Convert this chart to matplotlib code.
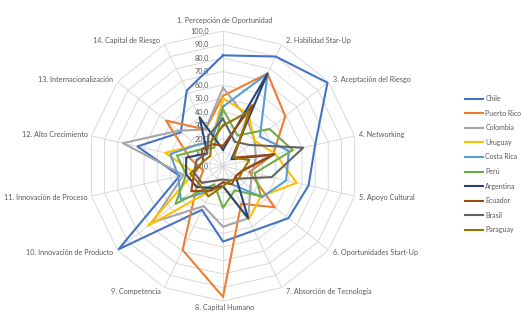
import numpy as np
import matplotlib
matplotlib.use("Agg")
import matplotlib.pyplot as plt

#####################################################################################
categories = [
    "1. Percepción de Oportunidad", "2. Habilidad Star-Up", "3. Aceptación del Riesgo",
    "4. Networking", "5. Apoyo Cultural", "6. Oportunidades Start-Up",
    "7. Absorción de Tecnología", "8. Capital Humano", "9. Competencia",
    "10. Innovación de Producto", "11. Innovación de Proceso", "12. Alto Crecimiento",
    "13. Internacionalización", "14. Capital de Riesgo",
]

chile = [82, 90, 99, 70, 65, 62, 53, 56, 36, 99, 33, 65, 40, 62]
puerto_rico = [52, 76, 59, 38, 20, 49, 31, 97, 69, 25, 15, 25, 54, 30]
colombia = [58, 40, 30, 25, 22, 26, 43, 45, 33, 67, 30, 76, 42, 30]
uruguay = [50, 43, 30, 40, 56, 36, 44, 15, 20, 71, 22, 44, 25, 20]
costa_rica = [44, 76, 35, 50, 48, 37, 15, 12, 20, 40, 34, 40, 25, 20]
peru = [42, 25, 44, 53, 24, 36, 20, 31, 15, 45, 28, 35, 20, 15]
argentina = [12, 76, 8, 39, 15, 12, 43, 15, 18, 25, 28, 28, 15, 40]
ecuador = [15, 50, 10, 38, 15, 12, 15, 12, 20, 30, 22, 15, 20, 18]
brasil = [35, 20, 25, 61, 37, 15, 12, 10, 12, 20, 22, 20, 15, 25]
paraguay = [30, 45, 10, 20, 15, 15, 12, 15, 25, 22, 25, 15, 12, 20]

series = {
    "Chile": chile,
    "Puerto Rico": puerto_rico,
    "Colombia": colombia,
    "Uruguay": uruguay,
    "Costa Rica": costa_rica,
    "Perú": peru,
    "Argentina": argentina,
    "Ecuador": ecuador,
    "Brasil": brasil,
    "Paraguay": paraguay,
}

colors = ["#4472C4", "#ED7D31", "#A5A5A5", "#FFC000", "#5B9BD5",
          "#70AD47", "#264478", "#9E480E", "#636363", "#997300"]

ring_values = np.arange(0, 101, 10)

#####################################################################################
plt.rcParams["font.family"] = ["Lato", "DejaVu Sans"]
text_color = "#595959"
grid_color = "#D9D9D9"

fig = plt.figure(figsize=(5.23, 3.22), dpi=100)
ax = fig.add_axes([0.1683, 0.0652, 0.5162, 0.8385], projection="polar")
ax.set_theta_offset(np.pi / 2)
ax.set_theta_direction(-1)
ax.set_ylim(0, 100)
ax.grid(False)
ax.spines["polar"].set_visible(False)
ax.set_xticks([])
ax.set_yticks([])
ax.patch.set_alpha(0)

n = len(categories)
angles = np.linspace(0, 2 * np.pi, n, endpoint=False)
closed = np.append(angles, angles[0])

# ---------------------------------------------------------------------------
# polygon grid and spokes
for r in ring_values[1:]:
    ax.plot(closed, [r] * (n + 1), color=grid_color, lw=0.7, zorder=1)
for a in angles:
    ax.plot([a, a], [0, 100], color=grid_color, lw=0.7, zorder=1)

# ---------------------------------------------------------------------------
# value labels along first spoke
for r in ring_values:
    ax.annotate(f"{r:.1f}".replace(".", ","), xy=(0, r), xytext=(-14, 0),
                textcoords="offset pixels", ha="right", va="center",
                fontsize=5.2, color=text_color, zorder=2)

# category labels, just outside the outer ring
for a, label in zip(angles, categories):
    s, c = np.sin(a), np.cos(a)
    if abs(s) < 0.1:
        ha, dx, dy = "center", 2, (11 if c > 0 else -7)
    else:
        ha = "left" if s > 0 else "right"
        dx, dy = 4 * np.sign(s), 4.5 * c
    ax.annotate(label, xy=(a, 100), xytext=(dx, dy), textcoords="offset pixels",
                ha=ha, va="center", fontsize=5.2, color=text_color)

# ---------------------------------------------------------------------------
for (name, values), color in zip(series.items(), colors):
    v = np.append(values, values[0])
    ax.plot(closed, v, color=color, lw=1.5, label=name, zorder=3)

fig.legend(loc="upper left", bbox_to_anchor=(0.884, 0.713), frameon=False,
           fontsize=5.0, handlelength=2.6, handletextpad=0.3, labelspacing=1.09,
           labelcolor=text_color, borderaxespad=0)

fig.savefig("out.png", dpi=100)
